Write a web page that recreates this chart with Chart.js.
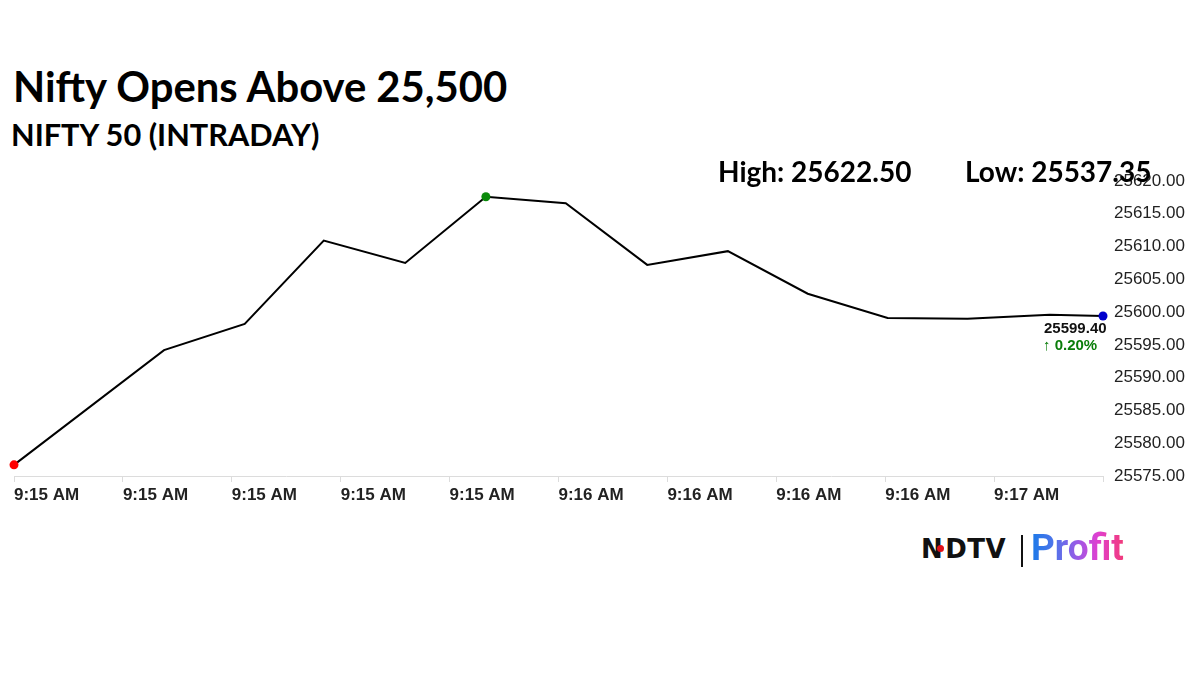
<!DOCTYPE html>
<html>
<head>
<meta charset="utf-8">
<script src="https://cdn.jsdelivr.net/npm/chart.js@4"></script>
<style>
  html, body { margin: 0; padding: 0; background: #fff; }
  #page { position: relative; width: 1200px; height: 674px; overflow: hidden; background: #fff; }
  .txt { position: absolute; font-family: Lato, "Open Sans", sans-serif; font-weight: 700; color: #000; line-height: 1; white-space: nowrap; z-index: 2; }
  #title { left: 13px; top: 66px; font-size: 41.8px; }
  #subtitle { left: 11px; top: 120px; font-size: 30.7px; }
  #high { left: 718px; top: 157px; font-size: 28px; }
  #low { left: 965px; top: 157px; font-size: 28px; }
  #chartBox { position: absolute; left: 0; top: 160px; width: 1200px; height: 360px; z-index: 1; }
  #ndtv { position: absolute; left: 921px; top: 536px; font-family: "DejaVu Sans", sans-serif; font-weight: 700; font-size: 26px; line-height: 1; letter-spacing: 0.5px; color: #111; }
  #ndtv .dot { display: inline-block; width: 7px; height: 7px; border-radius: 50%; background: #e0101a; margin: 0 1px 0 -6px; vertical-align: 6px; }
  #bar { position: absolute; left: 1021px; top: 535px; width: 2px; height: 32px; background: #111; }
  #profit { position: absolute; left: 1031px; top: 529px; font-family: Roboto, sans-serif; font-weight: 700; font-size: 37px; line-height: 1;
    background: linear-gradient(90deg, #1a7ae8 0%, #4f74ea 25%, #9a5ae6 50%, #e03fd0 72%, #f23a78 100%);
    -webkit-background-clip: text; background-clip: text; color: transparent; }
</style>
</head>
<body>
<div id="page">
  <div id="title" class="txt">Nifty Opens Above 25,500</div>
  <div id="subtitle" class="txt">NIFTY 50 (INTRADAY)</div>
  <div id="high" class="txt">High: 25622.50</div>
  <div id="low" class="txt">Low: 25537.35</div>
  <div id="chartBox"><canvas id="niftyChart"></canvas></div>
  <div id="ndtv">N<span class="dot"></span>DTV</div>
  <div id="bar"></div>
  <div id="profit">Profit</div>
</div>
<script>
// seconds since the first print (9:15 AM)
const secondsFromStart = [0, 18.6, 28.6, 38.4, 48.5, 58.5, 68.4, 78.5, 88.5, 98.4, 108.3, 118.2, 128.4, 135];
const niftyValues = [25576.7, 25594.2, 25598.2, 25610.9, 25607.5, 25617.6, 25616.6, 25607.2, 25609.3, 25602.8, 25599.1, 25599.0, 25599.6, 25599.4];

const tickSeconds = [0, 13.5, 27, 40.5, 54, 67.5, 81, 94.5, 108, 121.5, 135];
const tickLabels = ["9:15 AM", "9:15 AM", "9:15 AM", "9:15 AM", "9:15 AM", "9:16 AM", "9:16 AM", "9:16 AM", "9:16 AM", "9:17 AM", ""];

const yMin = 25575, yMax = 25620, yStep = 5;
const lastPrice = "25599.40";
const changeText = "\u2191 0.20%";

const lastIdx = niftyValues.length - 1;
const maxIdx = niftyValues.indexOf(Math.max(...niftyValues));

function pointColor(i) {
    if (i === 0) return "#ff0000";
    if (i === maxIdx) return "#0a8a0a";
    if (i === lastIdx) return "#0000cc";
    return null;
}

// last price + change under the final point
const lastLabel = {
    id: "lastLabel",
    afterDatasetsDraw(chart) {
        const pt = chart.getDatasetMeta(0).data[lastIdx];
        const ctx = chart.ctx;
        ctx.save();
        ctx.textAlign = "left";
        ctx.textBaseline = "middle";
        ctx.font = "bold 15px 'Liberation Sans', Arial, sans-serif";
        ctx.fillStyle = "#111";
        ctx.fillText(lastPrice, pt.x - 59, pt.y + 13);
        ctx.fillStyle = "#0a7d0a";
        ctx.fillText(changeText, pt.x - 60, pt.y + 30);
        ctx.restore();
    }
};

new Chart(document.getElementById("niftyChart"), {
    type: "line",
    data: {
        datasets: [{
            data: secondsFromStart.map((s, i) => ({ x: s, y: niftyValues[i] })),
            borderColor: "#000",
            borderWidth: 2,
            tension: 0,
            fill: false,
            clip: false,
            pointRadius: ctx => pointColor(ctx.dataIndex) ? 4.5 : 0,
            pointBackgroundColor: ctx => pointColor(ctx.dataIndex) || "rgba(0,0,0,0)",
            pointBorderWidth: 0
        }]
    },
    options: {
        responsive: true,
        maintainAspectRatio: false,
        animation: false,
        layout: { padding: { left: 14, top: 21, right: 0, bottom: 0 } },
        plugins: { legend: { display: false }, tooltip: { enabled: false } },
        scales: {
            x: {
                type: "linear",
                min: tickSeconds[0],
                max: tickSeconds[tickSeconds.length - 1],
                afterBuildTicks: axis => { axis.ticks = tickSeconds.map(v => ({ value: v })); },
                afterFit: axis => { axis.height = 44; },
                grid: { drawOnChartArea: false, color: "#dcdcdc", tickLength: 6 },
                border: { color: "#dcdcdc" },
                ticks: {
                    autoSkip: false,
                    maxRotation: 0,
                    align: "start",
                    padding: 3,
                    color: "#222",
                    font: { family: "'Liberation Sans', Arial, sans-serif", size: 17, weight: "bold" },
                    callback: (v, i) => tickLabels[i]
                }
            },
            y: {
                position: "right",
                min: yMin,
                max: yMax,
                afterFit: axis => { axis.width = 97; },
                grid: { display: false },
                border: { display: false },
                ticks: {
                    stepSize: yStep,
                    padding: 3,
                    color: "#222",
                    font: { family: "'Liberation Sans', Arial, sans-serif", size: 17 },
                    callback: v => v.toFixed(2)
                }
            }
        }
    },
    plugins: [lastLabel]
});
</script>
</body>
</html>
